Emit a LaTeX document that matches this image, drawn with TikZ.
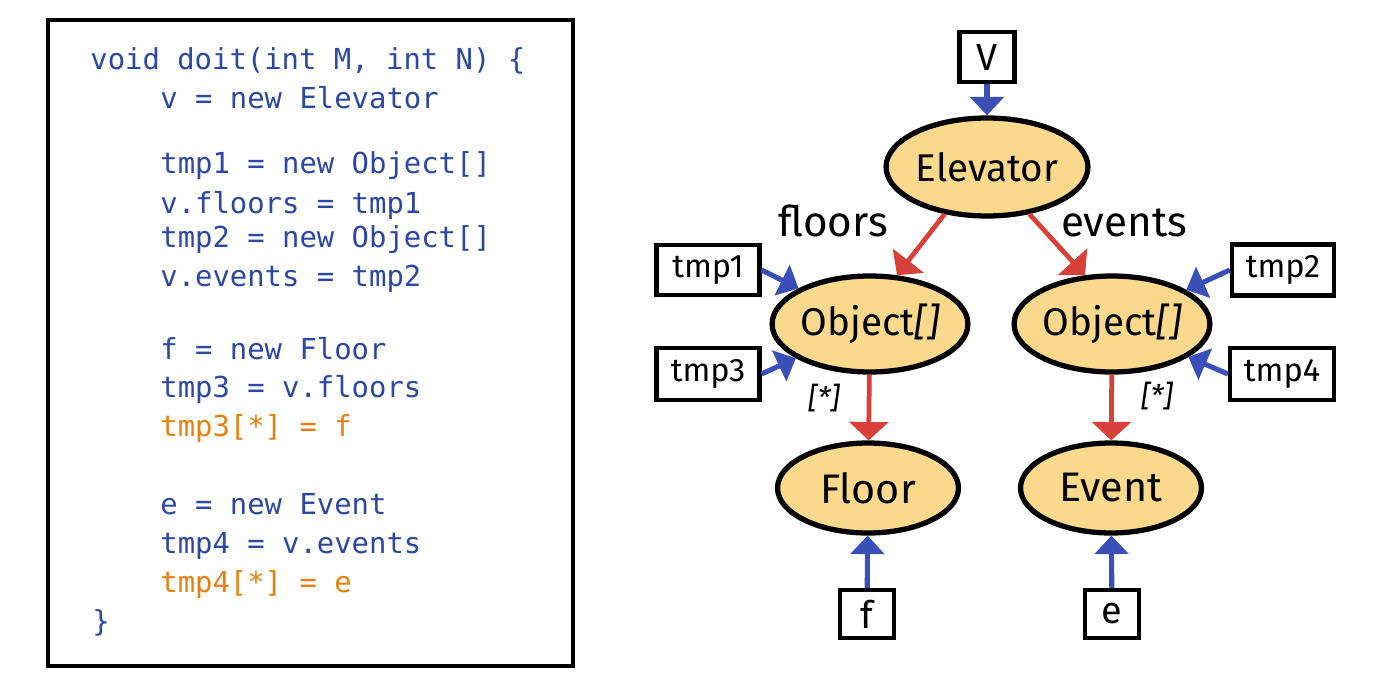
\documentclass[tikz,border=0pt]{standalone}
\usepackage{fontspec}
\setmonofont{DejaVu Sans Mono}
\newfontfamily\hand{Fira Sans}
\usetikzlibrary{arrows.meta,shapes.geometric}
\definecolor{codeblue}{HTML}{2C47A4}
\definecolor{codeorange}{HTML}{E7800E}
\definecolor{objfill}{HTML}{FAD98C}
\definecolor{ptrblue}{HTML}{3B4FB8}
\definecolor{fldred}{HTML}{D9403A}
\begin{document}
\begin{tikzpicture}[x=0.02cm,y=-0.02cm,
  codeline/.style={anchor=base west, inner sep=0, font=\ttfamily\fontsize{16.45}{18}\selectfont, text=codeblue},
  hlline/.style={codeline, text=codeorange},
  objnode/.style={ellipse, draw=black, line width=3pt, fill=objfill, inner sep=0, font=\hand\fontsize{22}{24}\selectfont},
  bignode/.style={objnode, font=\hand\fontsize{23.5}{26}\selectfont},
  varbox/.style={draw=black, line width=2.4pt, inner sep=0, fill=white, font=\hand\fontsize{18.5}{20}\selectfont},
  letterbox/.style={varbox, font=\hand\fontsize{21.5}{23}\selectfont},
  fieldlbl/.style={anchor=base, inner sep=0, font=\hand\fontsize{24}{26}\selectfont},
  idxlbl/.style={inner sep=0, font=\hand\itshape\fontsize{17}{19}\selectfont},
  ptr/.style={draw=ptrblue, line width=2.9pt, -{Triangle[width=19pt,length=10.5pt]}},
  fld/.style={draw=fldred, line width=2.7pt, -{Triangle[width=22pt,length=10.5pt]}}]
\useasboundingbox (0,0) rectangle (1392,675);
\fill[white] (0,0) rectangle (1392,675);
% code box
\draw[line width=2.3pt] (48,20) rectangle (573,666);
\node[codeline] (c1) at (90,70) {void doit(int M, int N) \{};
\node[codeline] (c2) at (160,109) {v = new Elevator};
\node[codeline] (c3) at (160,174) {tmp1 = new Object[]};
\node[codeline] (c4) at (160,214) {v.floors = tmp1};
\node[codeline] (c5) at (160,248) {tmp2 = new Object[]};
\node[codeline] (c6) at (160,287) {v.events = tmp2};
\node[codeline] (c7) at (160,359) {f = new Floor};
\node[codeline] (c8) at (160,397) {tmp3 = v.floors};
\node[hlline] (c9) at (160,436) {tmp3[*] = f};
\node[codeline] (c10) at (160,514) {e = new Event};
\node[codeline] (c11) at (160,553) {tmp4 = v.events};
\node[hlline] (c12) at (160,592) {tmp4[*] = e};
\node[codeline] (c13) at (92,631) {\}};
% graph
\node[letterbox, minimum width=1.10cm, minimum height=1.00cm] (V) at (987,57) {V};
\node[objnode, minimum width=3.68cm, minimum height=1.96cm] (elev) at (987,167) {Elevator};
\node[objnode, minimum width=3.66cm, minimum height=1.92cm] (objL) at (870,324) {Object{\itshape[]}};
\node[objnode, minimum width=3.70cm, minimum height=1.92cm] (objR) at (1112,324) {Object{\itshape[]}};
\node[bignode, minimum width=3.62cm, minimum height=1.80cm] (floor) at (868,488) {Floor};
\node[bignode, minimum width=3.62cm, minimum height=1.80cm] (event) at (1111,488) {Event};
\node[varbox, minimum width=2.06cm, minimum height=1.00cm] (tmp1) at (708,270) {tmp1};
\node[varbox, minimum width=2.06cm, minimum height=1.04cm] (tmp3) at (708,374) {tmp3};
\node[varbox, minimum width=2.04cm, minimum height=1.02cm] (tmp2) at (1283,270) {tmp2};
\node[varbox, minimum width=2.08cm, minimum height=1.04cm] (tmp4) at (1282,374) {tmp4};
\node[letterbox, minimum width=1.08cm, minimum height=0.96cm] (f) at (867,614) {f};
\node[letterbox, minimum width=1.08cm, minimum height=0.96cm] (e) at (1112,614) {e};
\node[fieldlbl] (lfloors) at (833,237) {floors};
\node[fieldlbl] (levents) at (1124,237) {events};
\node[idxlbl] (sL) at (824,398) {[*]};
\node[idxlbl] (sR) at (1157,396) {[*]};
% connectors
\draw[ptr] (V) -- (elev);
\draw[fld] (elev.228) -- (objL.61);
\draw[fld] (elev.312) -- (objR.119);
\draw[ptr] (tmp1.east) -- (objL);
\draw[ptr] (tmp3.east) -- (objL);
\draw[ptr] (tmp2.west) -- (objR);
\draw[ptr] (tmp4.west) -- (objR);
\draw[fld] (objL) -- (floor);
\draw[fld] (objR) -- (event);
\draw[ptr] (f) -- (floor);
\draw[ptr] (e) -- (event);
\end{tikzpicture}
\end{document}
